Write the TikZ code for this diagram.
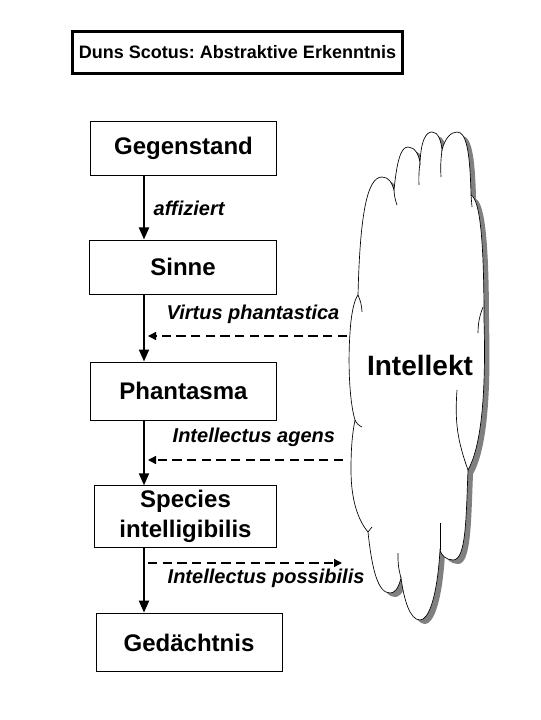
\documentclass[tikz,border=0pt]{standalone}
\usepackage{fontspec}
\setmainfont{Liberation Sans}
\frenchspacing
\usetikzlibrary{arrows.meta}
\newcommand{\cloudline}{(358,295) .. controls (360,215) and (367,177) .. (382,177)
  .. controls (389,177) and (392,183) .. (394,190)
  .. controls (397,160) and (401,147) .. (408,147) .. controls (415,147) and (419,155) .. (420,163)
  .. controls (421,140) and (426,132) .. (432,132) .. controls (438,132) and (441,140) .. (442,150)
  .. controls (445,138) and (451,132) .. (457,132) .. controls (466,132) and (470,150) .. (471,195)
  .. controls (480,200) and (484,240) .. (484,320)
  .. controls (486,390) and (482,445) .. (468,470)
  .. controls (466,520) and (466,560) .. (453,560) .. controls (446,560) and (441,555) .. (440,550)
  .. controls (437,600) and (428,620) .. (420,620) .. controls (410,620) and (404,600) .. (401,578)
  .. controls (398,590) and (394,593) .. (390,593) .. controls (378,593) and (372,570) .. (368,532)
  .. controls (358,520) and (351,500) .. (351,470) .. controls (351,450) and (352,435) .. (355,420)
  .. controls (349,400) and (348,360) .. (350,333) .. controls (351,315) and (354,300) .. (358,295) -- cycle}
\tikzset{
  titlebox/.style={draw, line width=2.25pt, minimum width=248pt, minimum height=31pt, font=\bfseries\fontsize{13.5}{16}\selectfont},
  stepbox/.style={draw, line width=0.75pt, minimum width=140pt, minimum height=42pt, align=center, font=\bfseries\fontsize{18}{22.5}\selectfont},
  actlabel/.style={anchor=west, font=\bfseries\itshape\fontsize{15}{18}\selectfont},
  flowarrow/.style={-{Triangle[width=7.5pt,length=9pt]}, line width=1.5pt},
  actarrow/.style={-{Triangle[width=6pt,length=6pt]}, line width=1.1pt, dash pattern=on 7pt off 4pt},
  cloudedge/.style={line width=0.5pt}
}
\begin{document}
\begin{tikzpicture}[x=0.75pt, y=-0.75pt]
\path[use as bounding box, fill=white] (0,0) rectangle (540,720);
\node[titlebox] (title) at (237.5,52.5) {Duns Scotus: Abstraktive Erkenntnis};
% Stufen der Erkenntnis
\node[stepbox, minimum height=41pt] (gegen) at (183.5,148.5) {Gegenstand};
\node[stepbox, minimum height=40.5pt] (sinne) at (183,267) {Sinne};
\node[stepbox, minimum height=43.5pt] (phant) at (183.5,391) {Phantasma};
\node[stepbox, minimum width=136pt, minimum height=44pt] (species) at (185.5,516.5) {Species\\intelligibilis};
\node[stepbox, minimum width=139.5pt, minimum height=44pt] (gedacht) at (189,642.5) {Gedächtnis};
% Intellekt-Wolke
\fill[gray, shift={(5,4)}] \cloudline;
\draw[cloudedge, fill=white] \cloudline;
\draw[cloudedge] (394,190) to[bend right=8] (397,205);
\draw[cloudedge] (420,163) to[bend right=5] (419,185);
\draw[cloudedge] (442,150) to[bend right=5] (441,177);
\draw[cloudedge] (471,195) to (472,207);
\draw[cloudedge] (478,333) to[bend left=10] (483,307);
\draw[cloudedge] (468,470) to[bend left=12] (457,390);
\draw[cloudedge] (440,550) to (440,523);
\draw[cloudedge] (401,578) to[bend left=8] (398,553);
\draw[cloudedge] (368,532) to (372,527);
\draw[cloudedge] (355,420) to[bend right=20] (362,427);
\draw[cloudedge] (358,295) to[bend left=10] (362,312);
\node[font=\bfseries\fontsize{21}{25}\selectfont] (intellekt) at (420,365) {Intellekt};
% Pfeile
\coordinate (ax) at (144,0);
\draw[flowarrow] (gegen.south -| ax) -- (sinne.north -| ax);
\draw[flowarrow] (sinne.south -| ax) -- (phant.north -| ax);
\draw[flowarrow] (phant.south -| ax) -- (species.north -| ax);
\draw[flowarrow] (species.south -| ax) -- (gedacht.north -| ax);
\coordinate (vpS) at (347,336);
\coordinate (vpE) at (148,336);
\coordinate (iaS) at (343,460);
\coordinate (iaE) at (148,460);
\coordinate (ipS) at (148,563);
\coordinate (ipE) at (342,563);
\draw[actarrow] (vpS) -- (vpE);
\draw[actarrow] (iaS) -- (iaE);
\draw[actarrow] (ipS) -- (ipE);
\node[actlabel] (aff) at (149,208) {affiziert};
\node[actlabel] (vp) at (162,314) {Virtus phantastica};
\node[actlabel] (ia) at (168,437) {Intellectus agens};
\node[actlabel] (ip) at (163,578) {Intellectus possibilis};
\end{tikzpicture}
\end{document}
